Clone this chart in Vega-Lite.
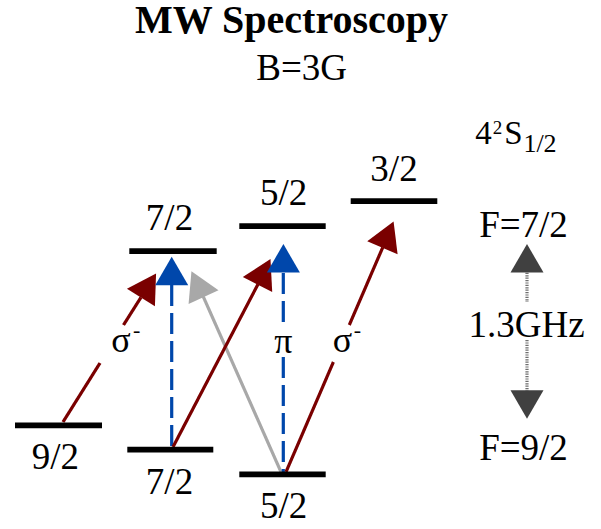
{
  "$schema": "https://vega.github.io/schema/vega-lite/v6.json",
  "width": 601,
  "height": 529,
  "padding": 0,
  "autosize": {"type": "fit", "contains": "padding"},
  "config": {"view": {"stroke": null}},
  "datasets": {
    "levels": [
      {"F": "9/2", "x": 15, "x2": 102, "y": 425.3},
      {"F": "7/2", "x": 127.3, "x2": 213.3, "y": 449.6},
      {"F": "5/2", "x": 239.3, "x2": 325.7, "y": 474.4},
      {"F": "7/2'", "x": 129.3, "x2": 216.7, "y": 251.2},
      {"F": "5/2'", "x": 239.3, "x2": 325.7, "y": 226.2},
      {"F": "3/2'", "x": 350.7, "x2": 437.3, "y": 201.2}
    ],
    "segments": [
      {"kind": "sigma", "x": 63, "y": 422, "x2": 100, "y2": 363},
      {"kind": "sigma", "x": 123.5, "y": 325, "x2": 141, "y2": 297.3},
      {"kind": "pi", "x": 171.7, "y": 285, "x2": 171.7, "y2": 446},
      {"kind": "rf", "x": 281, "y": 472, "x2": 203.3, "y2": 296.7},
      {"kind": "sigma", "x": 173, "y": 447, "x2": 258, "y2": 284.2},
      {"kind": "pi", "x": 283.3, "y": 273, "x2": 283.3, "y2": 327},
      {"kind": "pi", "x": 283.3, "y": 357, "x2": 283.3, "y2": 472},
      {"kind": "sigma", "x": 286, "y": 472, "x2": 333.4, "y2": 362},
      {"kind": "sigma", "x": 349.3, "y": 325, "x2": 382.7, "y2": 247.5},
      {"kind": "splitline", "x": 527, "y": 268, "x2": 527, "y2": 302},
      {"kind": "splitline", "x": 527, "y": 340, "x2": 527, "y2": 395}
    ],
    "heads": [
      {"kind": "sigma", "dir": "up", "x": 148.5, "y": 285.5, "angle": 32},
      {"kind": "pi", "dir": "up", "x": 171.7, "y": 271, "angle": 0},
      {"kind": "rf", "dir": "up", "x": 197.5, "y": 284.2, "angle": -25},
      {"kind": "sigma", "dir": "up", "x": 264, "y": 271.8, "angle": 27},
      {"kind": "pi", "dir": "up", "x": 283.4, "y": 258.3, "angle": 0},
      {"kind": "sigma", "dir": "up", "x": 388, "y": 234.6, "angle": 23},
      {"kind": "split", "dir": "up", "x": 527, "y": 258.3, "angle": 0},
      {"kind": "split", "dir": "down", "x": 527, "y": 404.5, "angle": 0}
    ],
    "texts": [
      {"style": "title", "text": "MW Spectroscopy", "x": 291.5, "y": 32.5},
      {"style": "main", "text": "B=3G", "x": 301.7, "y": 80},
      {"style": "main", "text": "9/2", "x": 55.3, "y": 469.3},
      {"style": "main", "text": "7/2", "x": 169.5, "y": 494},
      {"style": "main", "text": "5/2", "x": 283.7, "y": 518.3},
      {"style": "main", "text": "7/2", "x": 169.5, "y": 230},
      {"style": "main", "text": "5/2", "x": 283.7, "y": 205},
      {"style": "main", "text": "3/2", "x": 394, "y": 181},
      {"style": "main", "text": "F=7/2", "x": 523.5, "y": 237},
      {"style": "main", "text": "1.3GHz", "x": 526.5, "y": 337},
      {"style": "main", "text": "F=9/2", "x": 523.5, "y": 460},
      {"style": "sig", "text": "σ", "x": 121, "y": 351.5},
      {"style": "sig", "text": "π", "x": 283.3, "y": 352.5},
      {"style": "sig", "text": "σ", "x": 342.5, "y": 351.5},
      {"style": "sigsup", "text": "-", "x": 136.7, "y": 337},
      {"style": "sigsup", "text": "-", "x": 357.3, "y": 337},
      {"style": "state", "text": "4", "x": 483.5, "y": 144},
      {"style": "state", "text": "S", "x": 513.5, "y": 144},
      {"style": "sup", "text": "2", "x": 497.5, "y": 133.5},
      {"style": "sub", "text": "1/2", "x": 540, "y": 152}
    ]
  },
  "encoding": {
    "x": {"field": "x", "type": "quantitative", "scale": {"domain": [0, 601], "nice": false, "zero": false}, "axis": null},
    "y": {"field": "y", "type": "quantitative", "scale": {"domain": [0, 529], "nice": false, "zero": false, "reverse": true}, "axis": null}
  },
  "layer": [
    {
      "data": {"name": "segments"},
      "mark": {"type": "rule", "strokeWidth": 3.2},
      "encoding": {
        "x2": {"field": "x2"},
        "y2": {"field": "y2"},
        "color": {"field": "kind", "type": "nominal", "scale": {"domain": ["sigma", "pi", "rf", "split", "splitline"], "range": ["#7a0000", "#0047ab", "#a8a8a8", "#404040", "#6e6e6e"]}, "legend": null},
        "strokeDash": {"field": "kind", "type": "nominal", "scale": {"domain": ["sigma", "pi", "rf", "split", "splitline"], "range": [[1, 0], [21, 7], [1, 0], [1, 0], [1.2, 1.2]]}, "legend": null}
      }
    },
    {
      "data": {"name": "heads"},
      "mark": {"type": "point", "filled": true, "opacity": 1, "size": 1089, "strokeWidth": 0},
      "encoding": {
        "shape": {"field": "dir", "type": "nominal", "scale": {"domain": ["up", "down"], "range": ["triangle-up", "triangle-down"]}, "legend": null},
        "angle": {"field": "angle", "type": "quantitative", "scale": null},
        "color": {"field": "kind", "type": "nominal", "scale": {"domain": ["sigma", "pi", "rf", "split", "splitline"], "range": ["#7a0000", "#0047ab", "#a8a8a8", "#404040", "#6e6e6e"]}, "legend": null}
      }
    },
    {
      "data": {"name": "levels"},
      "mark": {"type": "rule", "strokeWidth": 5.8, "color": "black"},
      "encoding": {"x2": {"field": "x2"}}
    },
    {
      "data": {"name": "texts"},
      "transform": [{"filter": "datum.style == 'title'"}],
      "mark": {"type": "text", "font": "Liberation Serif", "fontWeight": "bold", "fontSize": 40, "align": "center", "baseline": "alphabetic", "color": "black"},
      "encoding": {"text": {"field": "text"}}
    },
    {
      "data": {"name": "texts"},
      "transform": [{"filter": "datum.style == 'main'"}],
      "mark": {"type": "text", "font": "Liberation Serif", "fontSize": 37, "align": "center", "baseline": "alphabetic", "color": "black"},
      "encoding": {"text": {"field": "text"}}
    },
    {
      "data": {"name": "texts"},
      "transform": [{"filter": "datum.style == 'sig'"}],
      "mark": {"type": "text", "font": "Liberation Serif", "fontSize": 36, "align": "center", "baseline": "alphabetic", "color": "black"},
      "encoding": {"text": {"field": "text"}}
    },
    {
      "data": {"name": "texts"},
      "transform": [{"filter": "datum.style == 'sigsup'"}],
      "mark": {"type": "text", "font": "Liberation Serif", "fontSize": 22, "align": "center", "baseline": "alphabetic", "color": "black"},
      "encoding": {"text": {"field": "text"}}
    },
    {
      "data": {"name": "texts"},
      "transform": [{"filter": "datum.style == 'state'"}],
      "mark": {"type": "text", "font": "Liberation Serif", "fontSize": 33, "align": "center", "baseline": "alphabetic", "color": "black"},
      "encoding": {"text": {"field": "text"}}
    },
    {
      "data": {"name": "texts"},
      "transform": [{"filter": "datum.style == 'sup'"}],
      "mark": {"type": "text", "font": "Liberation Serif", "fontSize": 19, "align": "center", "baseline": "alphabetic", "color": "black"},
      "encoding": {"text": {"field": "text"}}
    },
    {
      "data": {"name": "texts"},
      "transform": [{"filter": "datum.style == 'sub'"}],
      "mark": {"type": "text", "font": "Liberation Serif", "fontSize": 26, "align": "center", "baseline": "alphabetic", "color": "black"},
      "encoding": {"text": {"field": "text"}}
    }
  ]
}
